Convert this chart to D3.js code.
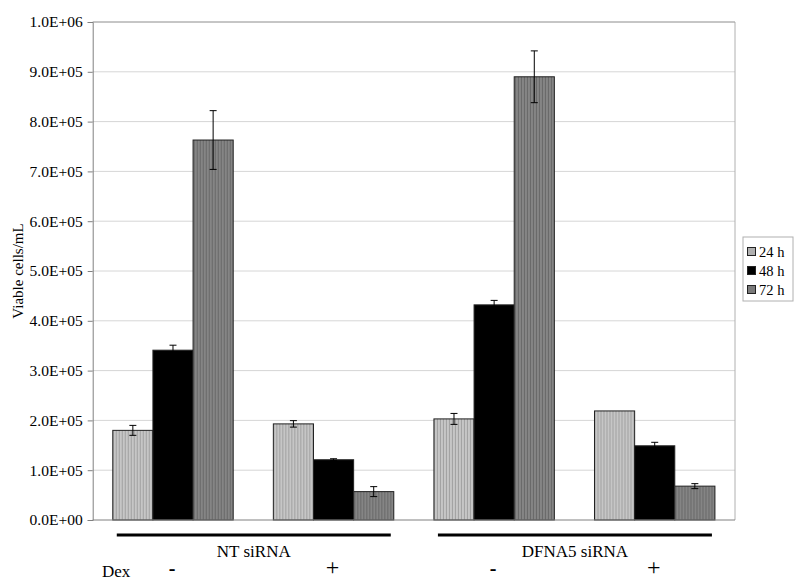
<!DOCTYPE html>
<html>
<head>
<meta charset="utf-8">
<script src="https://cdn.jsdelivr.net/npm/d3@7"></script>
<style>
  body { margin: 0; background: #fff; }
  text { font-family: "Liberation Serif", "Times New Roman", serif; fill: #000; }
</style>
</head>
<body>
<script>
var width = 800;
var height = 583;
var margin = {top: 22, right: 65, bottom: 63, left: 92.7};

// data (viable cells/mL)
var categories = ["NT-", "NT+", "DFNA5-", "DFNA5+"];
var series = ["24 h", "48 h", "72 h"];
var values24 = [180000, 193000, 203000, 219000];
var values48 = [341000, 121000, 432000, 149000];
var values72 = [763000, 57000, 890000, 68000];
var err24 = [10000, 6500, 11000, 0];
var err48 = [10000, 2000, 9000, 7000];
var err72 = [59000, 10000, 52000, 5000];
var yTicks = [0, 100000, 200000, 300000, 400000, 500000, 600000, 700000, 800000, 900000, 1000000];
var groups = [{label: "NT siRNA", cats: ["NT-", "NT+"]}, {label: "DFNA5 siRNA", cats: ["DFNA5-", "DFNA5+"]}];
var dexSigns = ["-", "+", "-", "+"];

var allValues = [values24, values48, values72];
var allErr = [err24, err48, err72];

var svg = d3.select("body").append("svg")
    .attr("width", width)
    .attr("height", height);

// bar fill patterns (vertical stripes like the original)
var defs = svg.append("defs");
function stripes(id, base, line){
    var p = defs.append("pattern")
        .attr("id", id)
        .attr("patternUnits", "userSpaceOnUse")
        .attr("width", 3).attr("height", 3);
    p.append("rect").attr("width", 3).attr("height", 3).attr("fill", base);
    p.append("rect").attr("width", 1).attr("height", 3).attr("fill", line);
}
stripes("p24", "#c6c6c6", "#a0a0a0");
stripes("p72", "#858585", "#686868");
var fills = ["url(#p24)", "#000", "url(#p72)"];
var swatch = ["#b0b0b0", "#000", "#7a7a7a"];

var plotW = width - margin.left - margin.right;
var plotH = height - margin.top - margin.bottom;
var x0 = margin.left, y0 = margin.top;

var x = d3.scaleBand().domain(categories)
    .range([x0, x0 + plotW])
    .paddingInner(0.25).paddingOuter(0.125);
var xs = d3.scaleBand().domain(series).range([0, x.bandwidth()]);
var y = d3.scaleLinear().domain([0, 1000000]).range([y0 + plotH, y0]);

// gridlines
svg.append("g").selectAll("line").data(yTicks.slice(1)).enter().append("line")
    .attr("x1", x0).attr("x2", x0 + plotW)
    .attr("y1", function(d){ return y(d); }).attr("y2", function(d){ return y(d); })
    .attr("stroke", "#d6d6d6").attr("stroke-width", 1);

// frame
svg.append("line").attr("x1", x0 + plotW).attr("x2", x0 + plotW)
    .attr("y1", y0).attr("y2", y0 + plotH).attr("stroke", "#b0b0b0");
svg.append("line").attr("x1", x0).attr("x2", x0 + plotW)
    .attr("y1", y0).attr("y2", y0).attr("stroke", "#a0a0a0");

// bars
var cat = svg.append("g").selectAll("g").data(categories).enter().append("g")
    .attr("transform", function(d){ return "translate(" + x(d) + ",0)"; });

series.forEach(function(s, si){
    cat.append("rect")
        .attr("x", xs(s))
        .attr("width", xs.bandwidth())
        .attr("y", function(d, i){ return y(allValues[si][i]); })
        .attr("height", function(d, i){ return y(0) - y(allValues[si][i]); })
        .attr("fill", fills[si])
        .attr("stroke", "#222").attr("stroke-width", 1);
});

// error bars
series.forEach(function(s, si){
    var cx = xs(s) + xs.bandwidth() / 2;
    var eb = cat.append("g").attr("class", "err");
    eb.each(function(d, i){
        var e = allErr[si][i];
        if (!e) return;
        var v = allValues[si][i];
        var g = d3.select(this);
        g.append("line").attr("x1", cx).attr("x2", cx)
            .attr("y1", y(v + e)).attr("y2", y(v - e)).attr("stroke", "#000");
        [v + e, v - e].forEach(function(t){
            g.append("line").attr("x1", cx - 3.5).attr("x2", cx + 3.5)
                .attr("y1", y(t)).attr("y2", y(t)).attr("stroke", "#000");
        });
    });
});

// y axis
var yAxis = d3.axisLeft(y).tickValues(yTicks).tickSize(5).tickPadding(5)
    .tickFormat(function(d){
        var e = d === 0 ? 0 : Math.floor(Math.log10(d));
        var m = d === 0 ? 0 : d / Math.pow(10, e);
        return m.toFixed(1) + "E+" + (e < 10 ? "0" : "") + e;
    });
var ya = svg.append("g").attr("transform", "translate(" + x0 + ",0)").call(yAxis);
ya.attr("font-family", null);
ya.select(".domain").attr("stroke", "#808080");
ya.selectAll(".tick line").attr("stroke", "#808080");
ya.selectAll("text").style("font-size", "15.5px")
    .style("font-family", "'Liberation Serif', serif");

// x baseline
svg.append("line").attr("x1", x0).attr("x2", x0 + plotW)
    .attr("y1", y(0)).attr("y2", y(0)).attr("stroke", "#808080");

// y label
svg.append("text")
    .attr("transform", "translate(23," + (y0 + plotH / 2) + ") rotate(-90)")
    .attr("text-anchor", "middle")
    .style("font-size", "15px")
    .text("Viable cells/mL");

// legend
var lg = svg.append("g").attr("transform", "translate(743,237)");
lg.append("rect").attr("width", 50).attr("height", 64)
    .attr("fill", "#fff").attr("stroke", "#b0b0b0");
series.forEach(function(s, i){
    lg.append("rect").attr("x", 4.5).attr("y", 10.5 + i * 19).attr("width", 8).attr("height", 8)
        .attr("fill", swatch[i]).attr("stroke", "#222");
    lg.append("text").attr("x", 16).attr("y", 19.5 + i * 19)
        .style("font-size", "14.5px").text(s);
});

// group lines and labels
groups.forEach(function(g){
    var a = x(g.cats[0]) + 4;
    var b = x(g.cats[1]) + x.bandwidth() - 3;
    svg.append("line").attr("x1", a).attr("x2", b)
        .attr("y1", 535).attr("y2", 535)
        .attr("stroke", "#000").attr("stroke-width", 3);
    svg.append("text").attr("x", (a + b) / 2).attr("y", 557)
        .attr("text-anchor", "middle").style("font-size", "17px").text(g.label);
});

// Dex row
svg.append("text").attr("x", 102).attr("y", 577)
    .style("font-size", "17px").text("Dex");
svg.append("g").selectAll("text").data(categories).enter().append("text")
    .attr("x", function(d){ return x(d) + x.bandwidth() / 2 - 1; })
    .attr("y", 575)
    .attr("text-anchor", "middle")
    .style("font-size", function(d, i){ return dexSigns[i] === "+" ? "24px" : "20px"; })
    .style("font-weight", function(d, i){ return dexSigns[i] === "+" ? "normal" : "bold"; })
    .text(function(d, i){ return dexSigns[i]; });
</script>
</body>
</html>
